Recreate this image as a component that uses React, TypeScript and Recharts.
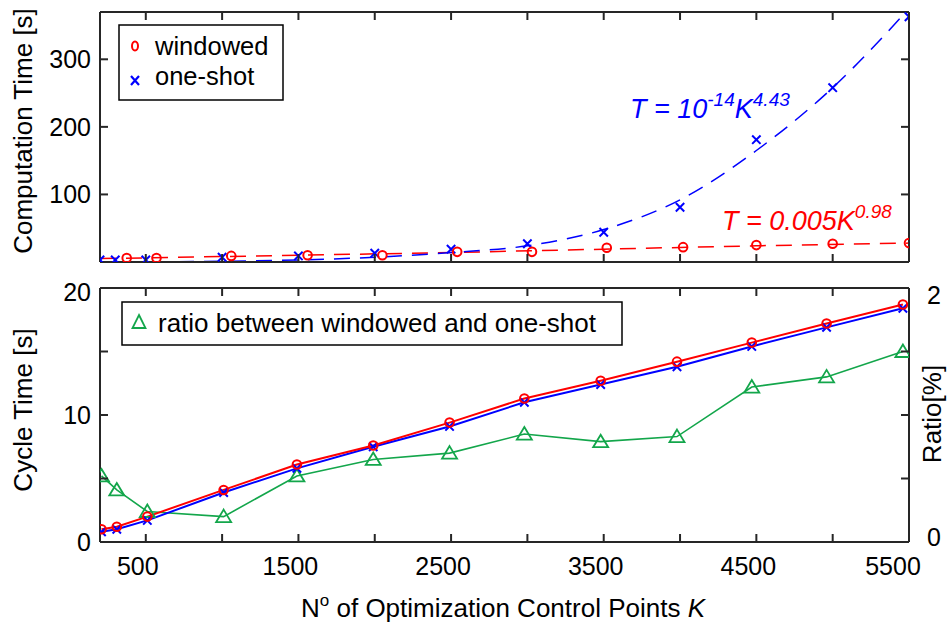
import React from 'react';
import { ComposedChart, Line, XAxis, YAxis, Legend } from 'recharts';

const FONT = '"Liberation Sans", Arial, Helvetica, sans-serif';
const AX = '#262626';
const RED = '#ff0000';
const BLUE = '#0000ff';
const GREEN = '#13a64b';

// x axis (number of optimization control points K)
const K_TICKS = [500, 1000, 1500, 2000, 2500, 3000, 3500, 4000, 4500, 5000, 5500];
const K_LABELS = [500, 1500, 2500, 3500, 4500, 5500];
const K_MIN = 200;
const K_MAX = 5500;

// top panel: computation time [s]
const COMP_TICKS = [100, 200, 300];
const COMP_MAX = 370;
const oneShotCompK = [200, 300, 500, 1000, 1500, 2000, 2500, 3000, 3500, 4000, 4500, 5000, 5500];
const oneShotCompT = [3, 3, 3, 7, 9, 13, 19, 27, 44, 81, 181, 258, 363];
const windowedCompK = [375, 570, 1060, 1560, 2050, 2540, 3030, 3520, 4020, 4500, 5000, 5500];
const windowedCompT = [6, 6, 9, 10, 10, 15, 15, 21, 22, 25, 27, 28];
// fitted curves
const oneShotFitK = [200, 1000, 1500, 2000, 2500, 3000, 3500, 4000, 4500, 5000, 5500];
const oneShotFitT = [0, 1, 3, 7, 14, 24, 48, 92, 165, 258, 375];
const windowedFitK = [200, 1500, 2500, 3500, 4500, 5500];
const windowedFitT = [5, 10, 14, 19, 24, 28];

// bottom panel: cycle time [s] and ratio [%]
const CYCLE_TICKS = [0, 5, 10, 15, 20];
const CYCLE_LABELS = [0, 10, 20];
const RATIO_TICKS = [0, 0.5, 1, 1.5, 2];
const RATIO_LABELS = [0, 2];
const cycleK = [210, 310, 510, 1010, 1490, 1990, 2490, 2980, 3480, 3980, 4470, 4960, 5460];
const windowedCycle = [1.0, 1.2, 2.0, 4.1, 6.1, 7.6, 9.4, 11.3, 12.7, 14.2, 15.7, 17.2, 18.7];
const oneShotCycle = [0.8, 1.0, 1.7, 3.9, 5.8, 7.5, 9.1, 11.0, 12.4, 13.8, 15.4, 16.9, 18.4];
const ratio = [0.52, 0.41, 0.24, 0.2, 0.52, 0.65, 0.7, 0.85, 0.79, 0.83, 1.22, 1.3, 1.5];

const rows = (ks: number[], vs: number[]) => ks.map((k, i) => ({ k, v: vs[i] }));

const circleDot = (color: string) => (p: any) =>
  p.cx == null ? <g key={p.index} /> : (
    <circle key={p.index} cx={p.cx} cy={p.cy} r={4.3} fill="none" stroke={color} strokeWidth={2} />
  );
const crossDot = (color: string) => (p: any) => {
  if (p.cx == null) return <g key={p.index} />;
  const { cx, cy } = p;
  const s = 4.2;
  return (
    <path key={p.index} d={`M${cx - s},${cy - s}L${cx + s},${cy + s}M${cx - s},${cy + s}L${cx + s},${cy - s}`}
      stroke={color} strokeWidth={2} fill="none" />
  );
};
const triDot = (p: any) => {
  if (p.cx == null) return <g key={p.index} />;
  const { cx, cy } = p;
  return (
    <path key={p.index} d={`M${cx},${cy - 7}L${cx + 7.5},${cy + 5.5}L${cx - 7.5},${cy + 5.5}Z`}
      fill="none" stroke={GREEN} strokeWidth={1.8} />
  );
};

const txt = { fontFamily: FONT, fill: '#000' };
const TL = 8; // inward tick length
const tickStroke = { stroke: AX, strokeWidth: 2 };

// bottom x axis: tickMargin 0 -> p.y is the axis line
const bottomXTick = (withLabels: boolean) => (p: any) => {
  const v = p.payload.value;
  const show = withLabels && K_LABELS.includes(v);
  const dx = v === 5500 ? -16 : -8;
  return (
    <g>
      <line x1={p.x} x2={p.x} y1={p.y} y2={p.y - TL} {...tickStroke} />
      {show && <text x={p.x + dx} y={p.y + 33} textAnchor="middle" fontSize={25} {...txt}>{v}</text>}
    </g>
  );
};
// top x axis: tickMargin 0 -> p.y is the axis line
const topXTick = (p: any) => (
  <line x1={p.x} x2={p.x} y1={p.y} y2={p.y + TL} {...tickStroke} />
);
// left y axis: tickMargin 9 -> axis line at p.x + 9
const leftYTick = (labels: number[], shift: Record<string, number>) => (p: any) => {
  const v = p.payload.value;
  const ax = p.x + 9;
  return (
    <g>
      <line x1={ax} x2={ax + TL} y1={p.y} y2={p.y} {...tickStroke} />
      {labels.includes(v) && (
        <text x={p.x} y={p.y + 9 + (shift[String(v)] || 0)} textAnchor="end" fontSize={25} {...txt}>{v}</text>
      )}
    </g>
  );
};
// right y axis: tickMargin 18 -> axis line at p.x - 18
const rightYTick = (labels: number[], shift: Record<string, number>) => (p: any) => {
  const v = p.payload.value;
  const ax = p.x - 18;
  return (
    <g>
      <line x1={ax} x2={ax - TL} y1={p.y} y2={p.y} {...tickStroke} />
      {labels.includes(v) && (
        <text x={p.x} y={p.y + 9 + (shift[String(v)] || 0)} textAnchor="start" fontSize={25} {...txt}>{v}</text>
      )}
    </g>
  );
};

const axisCommon = {
  stroke: AX,
  axisLine: { stroke: AX, strokeWidth: 2 },
  tickLine: false,
  tickSize: 0,
};

const TopLegend = () => (
  <svg width={166} height={77} style={{ display: 'block' }}>
    <rect x={1} y={1} width={164} height={75} fill="#fff" stroke="#000" strokeWidth={1.5} />
    <ellipse cx={17} cy={22} rx={3} ry={4.5} fill="none" stroke={RED} strokeWidth={2} />
    <text x={37} y={31} fontSize={25.5} {...txt}>windowed</text>
    <path d="M13,52L21,61M13,61L21,52" stroke={BLUE} strokeWidth={2.2} />
    <text x={37} y={61} fontSize={25.5} {...txt}>one-shot</text>
  </svg>
);

const BottomLegend = () => (
  <svg width={502} height={45} style={{ display: 'block' }}>
    <rect x={1} y={1} width={500} height={43} fill="#fff" stroke="#000" strokeWidth={1.5} />
    <path d="M18,14L24.5,27L11.5,27Z" fill="none" stroke={GREEN} strokeWidth={1.8} />
    <text x={37} y={31} fontSize={26} {...txt}>ratio between windowed and one-shot</text>
  </svg>
);

const TopChart = () => (
  <ComposedChart width={947} height={275} margin={{ top: 11, right: 0, bottom: 12, left: 0 }}>
    <XAxis xAxisId="b" type="number" dataKey="k" domain={[K_MIN, K_MAX]} ticks={K_TICKS}
      allowDataOverflow height={1} tickMargin={0} tick={bottomXTick(false)} {...axisCommon} />
    <XAxis xAxisId="t" orientation="top" type="number" dataKey="k" domain={[K_MIN, K_MAX]} ticks={K_TICKS}
      allowDataOverflow height={1} tickMargin={0} tick={topXTick} {...axisCommon} />
    <YAxis yAxisId="l" type="number" domain={[0, COMP_MAX]} ticks={COMP_TICKS} allowDataOverflow
      width={100} tickMargin={9} tick={leftYTick(COMP_TICKS, {})} {...axisCommon} />
    <YAxis yAxisId="r" orientation="right" type="number" domain={[0, COMP_MAX]} ticks={COMP_TICKS}
      allowDataOverflow width={38} tickMargin={18} tick={rightYTick([], {})} {...axisCommon} />
    <Legend layout="horizontal" verticalAlign="middle" align="center"
      wrapperStyle={{ left: 118, top: 24, width: 166, height: 77 }} content={() => <TopLegend />} />
    <Line xAxisId="b" yAxisId="l" data={rows(windowedFitK, windowedFitT)} dataKey="v" type="linear"
      stroke={RED} strokeWidth={1.5} strokeDasharray="16 10" dot={false} activeDot={false}
      isAnimationActive={false} legendType="none" />
    <Line xAxisId="b" yAxisId="l" data={rows(oneShotFitK, oneShotFitT)} dataKey="v" type="monotone"
      stroke={BLUE} strokeWidth={1.5} strokeDasharray="16 10" dot={false} activeDot={false}
      isAnimationActive={false} legendType="none" />
    <Line xAxisId="b" yAxisId="l" data={rows(oneShotCompK, oneShotCompT)} dataKey="v"
      stroke="none" dot={crossDot(BLUE)} activeDot={false} isAnimationActive={false} legendType="none" />
    <Line xAxisId="b" yAxisId="l" data={rows(windowedCompK, windowedCompT)} dataKey="v"
      stroke="none" dot={circleDot(RED)} activeDot={false} isAnimationActive={false} legendType="none" />
  </ComposedChart>
);

const BottomChart = () => (
  <ComposedChart width={947} height={347} margin={{ top: 12, right: 0, bottom: 0, left: 0 }}>
    <XAxis xAxisId="b" type="number" dataKey="k" domain={[K_MIN, K_MAX]} ticks={K_TICKS}
      allowDataOverflow height={80} tickMargin={0} tick={bottomXTick(true)} {...axisCommon} />
    <XAxis xAxisId="t" orientation="top" type="number" dataKey="k" domain={[K_MIN, K_MAX]} ticks={K_TICKS}
      allowDataOverflow height={1} tickMargin={0} tick={topXTick} {...axisCommon} />
    <YAxis yAxisId="l" type="number" domain={[0, 20]} ticks={CYCLE_TICKS} allowDataOverflow
      width={100} tickMargin={9} tick={leftYTick(CYCLE_LABELS, { '20': 4 })} {...axisCommon} />
    <YAxis yAxisId="r" orientation="right" type="number" domain={[0, 2]} ticks={RATIO_TICKS}
      allowDataOverflow width={38} tickMargin={18}
      tick={rightYTick(RATIO_LABELS, { '2': 7, '0': -5 })} {...axisCommon} />
    <Legend layout="horizontal" verticalAlign="middle" align="center"
      wrapperStyle={{ left: 121, top: 26, width: 502, height: 45 }} content={() => <BottomLegend />} />
    <Line xAxisId="b" yAxisId="r" data={rows(cycleK, ratio)} dataKey="v" type="linear"
      stroke={GREEN} strokeWidth={1.6} dot={triDot} activeDot={false} isAnimationActive={false} legendType="none" />
    <Line xAxisId="b" yAxisId="l" data={rows(cycleK, oneShotCycle)} dataKey="v" type="linear"
      stroke={BLUE} strokeWidth={2} dot={crossDot(BLUE)} activeDot={false} isAnimationActive={false} legendType="none" />
    <Line xAxisId="b" yAxisId="l" data={rows(cycleK, windowedCycle)} dataKey="v" type="linear"
      stroke={RED} strokeWidth={2} dot={circleDot(RED)} activeDot={false} isAnimationActive={false} legendType="none" />
  </ComposedChart>
);

const Overlay = () => (
  <svg width={947} height={622} style={{ position: 'absolute', left: 0, top: 0, pointerEvents: 'none' }}>
    <text transform="translate(32,131) rotate(-90)" textAnchor="middle" fontSize={26} {...txt}>Computation Time [s]</text>
    <text transform="translate(32,410) rotate(-90)" textAnchor="middle" fontSize={26} {...txt}>Cycle Time [s]</text>
    <text transform="translate(941,414) rotate(-90)" textAnchor="middle" fontSize={26} {...txt}>Ratio[%]</text>
    <text x={503} y={617} textAnchor="middle" fontSize={26} {...txt}>
      N<tspan fontSize={17} dy={-11}>o</tspan><tspan dy={11}> of Optimization Control Points </tspan>
      <tspan fontStyle="italic">K</tspan>
    </text>
    <text x={630} y={118} fontSize={27} fontStyle="italic" fontFamily={FONT} fill={BLUE}>
      T = 10<tspan fontSize={19} dy={-12}>-14</tspan><tspan dy={12}>K</tspan>
      <tspan fontSize={19} dy={-12}>4.43</tspan>
    </text>
    <text x={722} y={230} fontSize={27} fontStyle="italic" fontFamily={FONT} fill={RED}>
      T = 0.005K<tspan fontSize={19} dy={-12}>0.98</tspan>
    </text>
  </svg>
);

export default function App() {
  return (
    <div style={{ position: 'absolute', left: 0, top: 0, width: 947, height: 622, background: '#fff', overflow: 'hidden' }}>
      <div style={{ position: 'absolute', left: 0, top: 0 }}>
        <TopChart />
      </div>
      <div style={{ position: 'absolute', left: 0, top: 275 }}>
        <BottomChart />
      </div>
      <Overlay />
    </div>
  );
}
